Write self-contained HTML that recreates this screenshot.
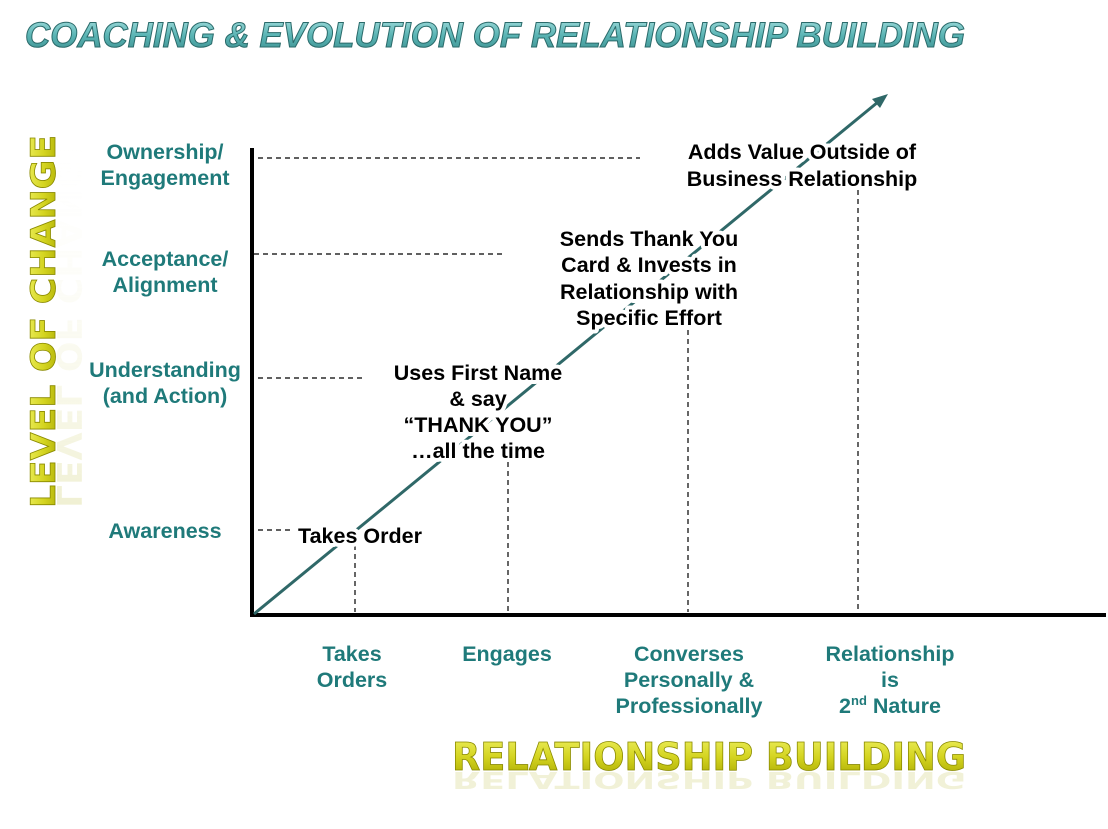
<!DOCTYPE html>
<html><head><style>body{margin:0;background:#fff}svg{display:block}</style></head><body>
<svg width="1108" height="829" viewBox="0 0 1108 829" xmlns="http://www.w3.org/2000/svg">
<defs>
<linearGradient id="yg" x1="0" y1="0" x2="0" y2="1"><stop offset="0" stop-color="#eef060"/><stop offset="0.5" stop-color="#d4d420"/><stop offset="1" stop-color="#a8a800"/></linearGradient>
<linearGradient id="yh" x1="0" y1="0" x2="1" y2="0"><stop offset="0" stop-color="#d4d480" stop-opacity="0.7"/><stop offset="1" stop-color="#ffffff" stop-opacity="0"/></linearGradient>
<linearGradient id="tg" x1="0" y1="0" x2="0" y2="1"><stop offset="0" stop-color="#a8e0e0"/><stop offset="0.5" stop-color="#5ab4b4"/><stop offset="1" stop-color="#3a8c8c"/></linearGradient>
</defs>
<text x="25" y="47" font-family="Liberation Sans, sans-serif" font-weight="bold" font-style="italic" font-size="35" fill="url(#tg)" stroke="#2a6a6a" stroke-width="1" textLength="940" lengthAdjust="spacingAndGlyphs">COACHING &amp; EVOLUTION OF RELATIONSHIP BUILDING</text>

<g font-family="DejaVu Sans, sans-serif" font-weight="bold">
<text transform="translate(55,508) rotate(-90)" font-size="34" fill="url(#yg)" stroke="#8a8a00" stroke-width="0.8" textLength="373" lengthAdjust="spacingAndGlyphs">LEVEL OF CHANGE</text>
<text transform="translate(57,508) rotate(-90) scale(1,-1)" font-size="34" fill="url(#yh)" textLength="373" lengthAdjust="spacingAndGlyphs" opacity="0.5">LEVEL OF CHANGE</text>
<text x="452" y="770" font-size="38" fill="url(#yg)" stroke="#8a8a00" stroke-width="0.8" textLength="514" lengthAdjust="spacingAndGlyphs">RELATIONSHIP BUILDING</text>
<text transform="translate(452,772) scale(1,-0.6)" font-size="38" fill="#d8d890" opacity="0.35" textLength="514" lengthAdjust="spacingAndGlyphs">RELATIONSHIP BUILDING</text>
</g>

<g stroke="#000" stroke-width="1.2" stroke-dasharray="5,4" fill="none">
<line x1="258" y1="158" x2="640" y2="158"/>
<line x1="254" y1="254" x2="505" y2="254"/>
<line x1="258" y1="378" x2="365" y2="378"/>
<line x1="258" y1="530" x2="290" y2="530"/>
<line x1="355" y1="545" x2="355" y2="612"/>
<line x1="508" y1="462" x2="508" y2="612"/>
<line x1="688" y1="330" x2="688" y2="612"/>
<line x1="858" y1="190" x2="858" y2="612"/>
</g>
<line x1="252" y1="148" x2="252" y2="617" stroke="#000" stroke-width="4"/>
<line x1="250" y1="615" x2="1106" y2="615" stroke="#000" stroke-width="4"/>
<line x1="254" y1="614" x2="878" y2="102" stroke="#2f6868" stroke-width="3"/>
<polygon points="888,94 872,99 880,108" fill="#2f6868"/>

<g font-family="Liberation Sans, sans-serif" font-weight="bold" font-size="21.5" fill="#1f7a7a" text-anchor="middle">
<text x="165" y="159">Ownership/</text><text x="165" y="185">Engagement</text>
<text x="165" y="266">Acceptance/</text><text x="165" y="292">Alignment</text>
<text x="165" y="377">Understanding</text><text x="165" y="403">(and Action)</text>
<text x="165" y="538">Awareness</text>
<text x="352" y="661">Takes</text><text x="352" y="687">Orders</text>
<text x="507" y="661">Engages</text>
<text x="689" y="661">Converses</text><text x="689" y="687">Personally &amp;</text><text x="689" y="713">Professionally</text>
<text x="890" y="661">Relationship</text><text x="890" y="687">is</text><text x="890" y="713">2<tspan font-size="13" dy="-8">nd</tspan><tspan dy="8"> Nature</tspan></text>
</g>
<g font-family="Liberation Sans, sans-serif" font-weight="bold" font-size="21.5" fill="#000" text-anchor="middle" stroke="#fff" stroke-width="8" paint-order="stroke" stroke-linejoin="round">
<text x="360" y="543">Takes Order</text>
<text x="478" y="380">Uses First Name</text><text x="478" y="406">&amp; say</text><text x="478" y="432">“THANK YOU”</text><text x="478" y="458">…all the time</text>
<text x="649" y="246">Sends Thank You</text><text x="649" y="272">Card &amp; Invests in</text><text x="649" y="299">Relationship with</text><text x="649" y="325">Specific Effort</text>
<text x="802" y="159">Adds Value Outside of</text><text x="802" y="186">Business Relationship</text>
</g>
</svg>
</body></html>
